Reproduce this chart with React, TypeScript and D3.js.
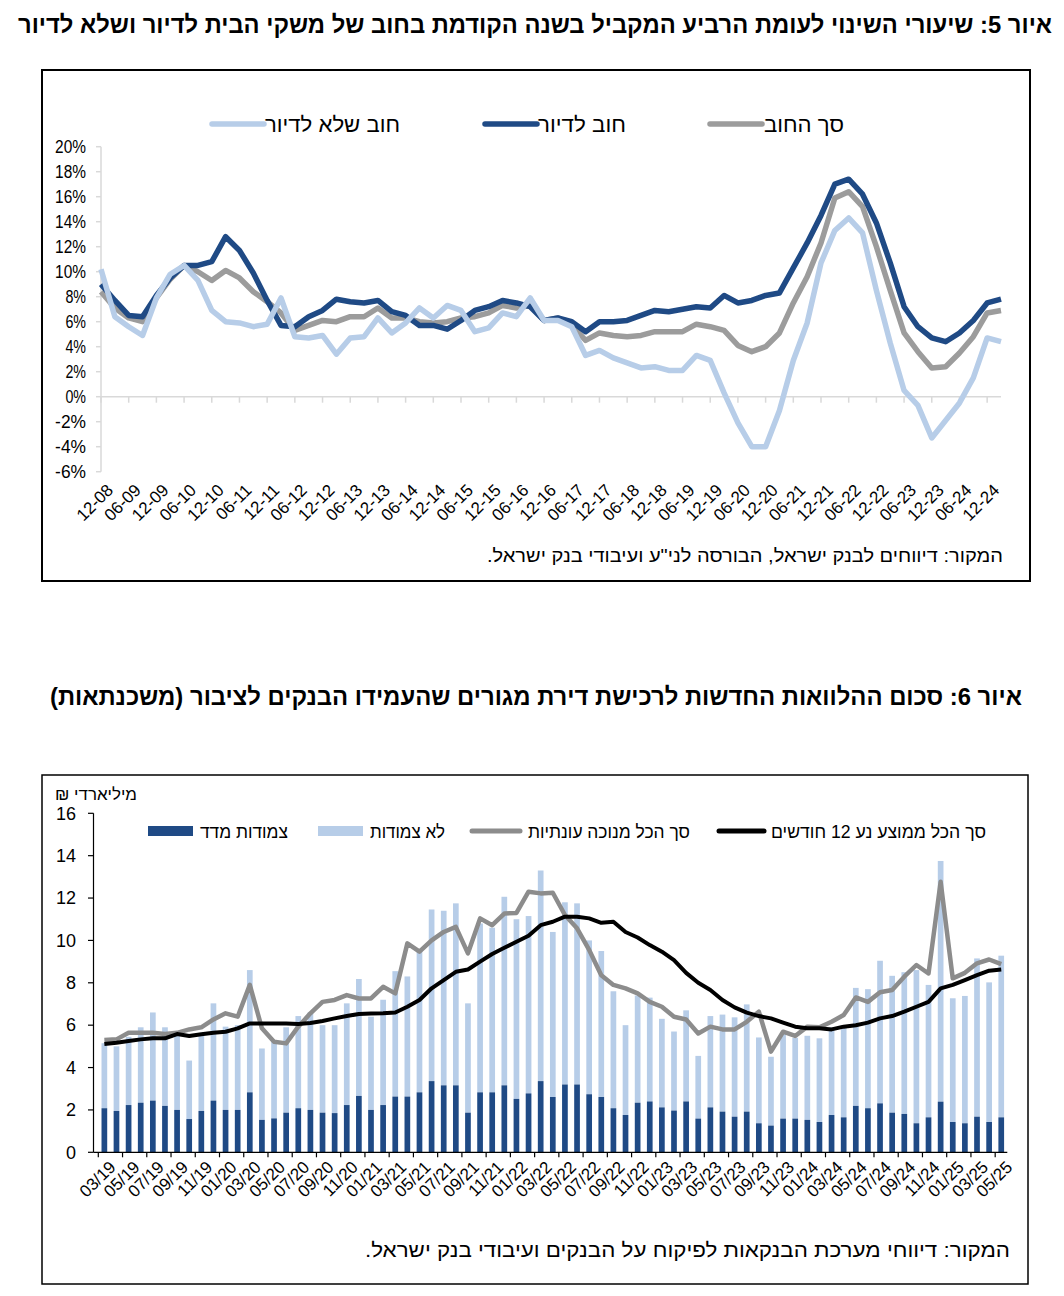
import React, { useEffect, useRef } from "react";
import * as d3 from "d3";

const FONT = "'Liberation Sans', Arial, 'DejaVu Sans', sans-serif";

// ---------- figure 5: quarterly yoy change in household debt (%) ----------
const quarters = [
  "12-08", "03-09", "06-09", "09-09", "12-09", "03-10", "06-10", "09-10", "12-10",
  "03-11", "06-11", "09-11", "12-11", "03-12", "06-12", "09-12", "12-12",
  "03-13", "06-13", "09-13", "12-13", "03-14", "06-14", "09-14", "12-14",
  "03-15", "06-15", "09-15", "12-15", "03-16", "06-16", "09-16", "12-16",
  "03-17", "06-17", "09-17", "12-17", "03-18", "06-18", "09-18", "12-18",
  "03-19", "06-19", "09-19", "12-19", "03-20", "06-20", "09-20", "12-20",
  "03-21", "06-21", "09-21", "12-21", "03-22", "06-22", "09-22", "12-22",
  "03-23", "06-23", "09-23", "12-23", "03-24", "06-24", "09-24", "12-24", "03-25",
];
const quarterTicks = quarters.filter((_, i) => i % 2 === 0);
const pctTicks = [-6, -4, -2, 0, 2, 4, 6, 8, 10, 12, 14, 16, 18, 20];

const totalDebt = [
  8.4, 7.1, 6.3, 6.0, 7.9, 9.4, 10.5, 10.0, 9.3, 10.1, 9.5, 8.4, 7.6, 6.7, 5.3, 5.7,
  6.1, 6.0, 6.4, 6.4, 7.1, 6.3, 6.3, 6.0, 5.9, 6.0, 6.3, 6.4, 6.7, 7.3, 7.1, 7.3,
  6.1, 6.3, 5.7, 4.5, 5.1, 4.9, 4.8, 4.9, 5.2, 5.2, 5.2, 5.8, 5.6, 5.3, 4.1, 3.6,
  4.0, 5.1, 7.5, 9.6, 12.3, 15.9, 16.4, 15.2, 12.0, 8.5, 5.1, 3.6, 2.3, 2.4, 3.5,
  4.8, 6.7, 6.9,
];
const housingDebt = [
  9.0, 7.7, 6.5, 6.4, 8.1, 9.5, 10.5, 10.5, 10.8, 12.8, 11.7, 9.9, 7.7, 5.7, 5.6, 6.4,
  6.9, 7.8, 7.6, 7.5, 7.7, 6.8, 6.5, 5.7, 5.7, 5.4, 6.1, 6.9, 7.2, 7.7, 7.5, 7.2,
  6.1, 6.3, 6.0, 5.2, 6.0, 6.0, 6.1, 6.5, 6.9, 6.8, 7.0, 7.2, 7.1, 8.1, 7.5, 7.7,
  8.1, 8.3, 10.3, 12.3, 14.5, 17.0, 17.4, 16.2, 13.9, 10.7, 7.2, 5.6, 4.7, 4.4, 5.1,
  6.1, 7.5, 7.8,
];
const nonHousingDebt = [
  10.2, 6.4, 5.6, 4.9, 7.9, 9.8, 10.5, 9.3, 6.9, 6.0, 5.9, 5.6, 5.8, 7.9, 4.8, 4.7,
  4.9, 3.4, 4.7, 4.8, 6.3, 5.1, 5.9, 7.1, 6.3, 7.3, 6.9, 5.2, 5.5, 6.7, 6.4, 7.9,
  6.1, 6.1, 5.6, 3.3, 3.7, 3.1, 2.7, 2.3, 2.4, 2.1, 2.1, 3.3, 2.9, 0.3, -2.1, -4.0,
  -4.0, -1.1, 2.9, 5.9, 10.7, 13.3, 14.3, 13.1, 8.5, 4.3, 0.5, -0.7, -3.3, -1.9,
  -0.5, 1.5, 4.7, 4.4,
];

// ---------- figure 6: new mortgages (billion NIS) ----------
const months = [
  "03/19", "04/19", "05/19", "06/19", "07/19", "08/19", "09/19", "10/19", "11/19", "12/19",
  "01/20", "02/20", "03/20", "04/20", "05/20", "06/20", "07/20", "08/20", "09/20", "10/20", "11/20", "12/20",
  "01/21", "02/21", "03/21", "04/21", "05/21", "06/21", "07/21", "08/21", "09/21", "10/21", "11/21", "12/21",
  "01/22", "02/22", "03/22", "04/22", "05/22", "06/22", "07/22", "08/22", "09/22", "10/22", "11/22", "12/22",
  "01/23", "02/23", "03/23", "04/23", "05/23", "06/23", "07/23", "08/23", "09/23", "10/23", "11/23", "12/23",
  "01/24", "02/24", "03/24", "04/24", "05/24", "06/24", "07/24", "08/24", "09/24", "10/24", "11/24", "12/24",
  "01/25", "02/25", "03/25", "04/25", "05/25",
];
const monthTicks = months.filter((_, i) => i % 2 === 0);
const amountTicks = [0, 2, 4, 6, 8, 10, 12, 14, 16];

const cpiLinked = [
  2.08, 1.95, 2.23, 2.34, 2.44, 2.19, 2.0, 1.57, 1.95, 2.44, 2.0, 2.0, 2.83, 1.53, 1.6,
  1.87, 2.08, 2.0, 1.87, 1.85, 2.23, 2.66, 2.0, 2.23, 2.63, 2.63, 2.83, 3.36, 3.16, 3.16,
  1.87, 2.83, 2.83, 3.16, 2.52, 2.78, 3.36, 2.61, 3.2, 3.2, 2.74, 2.61, 2.08, 1.76, 2.34,
  2.4, 2.12, 1.97, 2.4, 1.59, 2.12, 1.92, 1.68, 1.92, 1.37, 1.26, 1.59, 1.59, 1.53, 1.43,
  1.76, 1.65, 2.19, 2.08, 2.31, 1.87, 1.81, 1.37, 1.65, 2.39, 1.43, 1.37, 1.68, 1.43, 1.65,
];
const unlinked = [
  3.07, 3.05, 3.22, 3.56, 4.16, 3.71, 3.6, 2.76, 3.55, 4.59, 3.93, 4.0, 5.77, 3.37, 3.7,
  4.03, 4.35, 4.6, 4.13, 4.15, 4.8, 5.52, 4.4, 4.97, 5.92, 5.67, 6.77, 8.1, 8.24, 8.59,
  5.16, 7.97, 7.77, 8.9, 8.48, 8.37, 9.94, 7.79, 8.6, 8.55, 7.26, 6.89, 5.52, 4.24, 5.06,
  4.9, 4.18, 3.73, 4.3, 2.96, 4.31, 4.58, 4.69, 5.06, 4.05, 3.25, 4.01, 3.81, 3.97, 3.95,
  4.14, 4.35, 5.57, 5.62, 6.73, 6.46, 6.69, 7.23, 6.25, 11.36, 5.84, 6.01, 7.47, 6.59, 7.63,
];
const seasonallyAdj = [
  5.3, 5.33, 5.64, 5.64, 5.64, 5.58, 5.64, 5.8, 5.9, 6.27, 6.56, 6.4, 7.9, 5.85, 5.22,
  5.14, 5.93, 6.56, 7.1, 7.19, 7.42, 7.26, 7.26, 7.81, 7.5, 9.86, 9.47, 10.0, 10.4, 10.64,
  9.39, 11.04, 10.72, 11.27, 11.3, 12.3, 12.22, 12.25, 11.2, 10.57, 9.55, 8.36, 7.9, 7.74, 7.5,
  7.1, 6.87, 6.4, 6.27, 5.61, 5.93, 5.8, 5.8, 6.16, 6.64, 4.75, 5.69, 5.49, 5.93, 5.9,
  6.16, 6.48, 7.31, 7.1, 7.55, 7.66, 8.29, 8.84, 8.44, 12.77, 8.21, 8.47, 8.92, 9.1, 8.88,
];
const movingAvg12 = [
  5.11, 5.17, 5.25, 5.33, 5.38, 5.38, 5.58, 5.49, 5.57, 5.64, 5.69, 5.85, 6.08, 6.08, 6.08,
  6.08, 6.05, 6.1, 6.2, 6.32, 6.43, 6.53, 6.55, 6.56, 6.6, 6.87, 7.19, 7.74, 8.13, 8.52,
  8.63, 9.0, 9.36, 9.65, 9.94, 10.22, 10.72, 10.88, 11.12, 11.12, 11.04, 10.83, 10.88, 10.4, 10.14,
  9.78, 9.47, 9.07, 8.47, 8.0, 7.66, 7.19, 6.84, 6.59, 6.43, 6.32, 6.12, 5.93, 5.85, 5.85,
  5.8, 5.93, 6.0, 6.12, 6.32, 6.43, 6.64, 6.87, 7.1, 7.74, 7.9, 8.13, 8.36, 8.57, 8.63,
];

const C_DARK = "#1f4a85";
const C_LIGHT = "#b7cde8";
const C_GRAY = "#9c9c9c";
const C_AXIS = "#d9d9d9";

type Sel = d3.Selection<SVGSVGElement, unknown, null, undefined>;

function rtlText(g: any, x: number, y: number, txt: string, size: number, opts: any = {}) {
  const t = g
    .append("text")
    .attr("x", x)
    .attr("y", y)
    .attr("direction", "rtl")
    .attr("text-anchor", "start")
    .attr("font-family", FONT)
    .attr("font-size", size)
    .attr("fill", "#000")
    .text(txt);
  if (opts.bold) t.attr("font-weight", "bold");
  if (opts.len) t.attr("textLength", opts.len).attr("lengthAdjust", "spacingAndGlyphs");
  return t;
}

function drawTop(svg: Sel) {
  const g = svg.append("g");
  rtlText(g, 1052, 33, "איור 5: שיעורי השינוי לעומת הרביע המקביל בשנה הקודמת בחוב של משקי הבית לדיור ושלא לדיור", 24, { bold: true, len: 1034 });

  g.append("rect").attr("x", 42).attr("y", 70).attr("width", 988).attr("height", 511)
    .attr("fill", "none").attr("stroke", "#000").attr("stroke-width", 2);

  const x = d3.scalePoint<string>().domain(quarters).range([101, 1001]);
  const y = d3.scaleLinear().domain([-6, 20]).range([471.7, 146.7]);

  // y axis
  g.append("line").attr("x1", 101).attr("x2", 101).attr("y1", y(20)).attr("y2", y(-6))
    .attr("stroke", C_AXIS).attr("stroke-width", 1.5);
  pctTicks.forEach((v) => {
    g.append("line").attr("x1", 96).attr("x2", 101).attr("y1", y(v)).attr("y2", y(v))
      .attr("stroke", C_AXIS).attr("stroke-width", 1.5);
    g.append("text").attr("x", 86).attr("y", y(v)).attr("dy", "0.36em")
      .attr("text-anchor", "end").attr("font-family", FONT).attr("font-size", 18)
      .attr("textLength", `${v}%`.length * 10.3).attr("lengthAdjust", "spacingAndGlyphs")
      .text(`${v}%`);
  });
  // zero axis with ticks
  g.append("line").attr("x1", 101).attr("x2", 1001).attr("y1", y(0)).attr("y2", y(0))
    .attr("stroke", C_AXIS).attr("stroke-width", 1.5);
  quarterTicks.forEach((q) => {
    const xx = x(q)!;
    g.append("line").attr("x1", xx).attr("x2", xx).attr("y1", y(0)).attr("y2", y(0) + 6)
      .attr("stroke", C_AXIS).attr("stroke-width", 1.5);
    g.append("text")
      .attr("transform", `translate(${xx + 9},${487}) rotate(-45)`)
      .attr("text-anchor", "end").attr("dy", "0.35em")
      .attr("font-family", FONT).attr("font-size", 17)
      .text(q);
  });

  const line = d3.line<number>().x((_, i) => x(quarters[i])!).y((d) => y(d));
  const series = [
    { data: totalDebt, color: C_GRAY },
    { data: housingDebt, color: C_DARK },
    { data: nonHousingDebt, color: C_LIGHT },
  ];
  series.forEach((s) => {
    g.append("path").attr("d", line(s.data)!).attr("fill", "none")
      .attr("stroke", s.color).attr("stroke-width", 5.5)
      .attr("stroke-linejoin", "round").attr("stroke-linecap", "butt");
  });

  // legend
  const legend = [
    { label: "סך החוב", color: C_GRAY, lx: 710, tx: 844, len: 80 },
    { label: "חוב לדיור", color: C_DARK, lx: 485, tx: 626, len: 88 },
    { label: "חוב שלא לדיור", color: C_LIGHT, lx: 212, tx: 400, len: 135 },
  ];
  legend.forEach((l) => {
    g.append("line").attr("x1", l.lx).attr("x2", l.lx + 52).attr("y1", 124).attr("y2", 124)
      .attr("stroke", l.color).attr("stroke-width", 5.5).attr("stroke-linecap", "round");
    rtlText(g, l.tx, 132, l.label, 21, { len: l.len });
  });

  rtlText(g, 1003, 562, "המקור: דיווחים לבנק ישראל, הבורסה לני\"ע ועיבודי בנק ישראל.", 18, { len: 516 });
}

function drawBottom(svg: Sel) {
  const g = svg.append("g");
  rtlText(g, 1022, 705, "איור 6: סכום ההלוואות החדשות לרכישת דירת מגורים שהעמידו הבנקים לציבור (משכנתאות)", 24, { bold: true, len: 972 });

  g.append("rect").attr("x", 42).attr("y", 775).attr("width", 986).attr("height", 509)
    .attr("fill", "none").attr("stroke", "#000").attr("stroke-width", 1.5);

  const x = d3.scaleBand<string>().domain(months).range([98.3, 1007.3]).padding(0);
  const y = d3.scaleLinear().domain([0, 16]).range([1152.3, 813.3]);
  const bw = x.bandwidth() * 0.47;
  const cx = (m: string) => x(m)! + x.bandwidth() / 2;

  // bars
  months.forEach((m, i) => {
    g.append("rect").attr("x", cx(m) - bw / 2).attr("width", bw)
      .attr("y", y(cpiLinked[i] + unlinked[i])).attr("height", y(cpiLinked[i]) - y(cpiLinked[i] + unlinked[i]))
      .attr("fill", C_LIGHT);
    g.append("rect").attr("x", cx(m) - bw / 2).attr("width", bw)
      .attr("y", y(cpiLinked[i])).attr("height", y(0) - y(cpiLinked[i]))
      .attr("fill", C_DARK);
  });

  const line = d3.line<number>().x((_, i) => cx(months[i])).y((d) => y(d));
  g.append("path").attr("d", line(seasonallyAdj)!).attr("fill", "none")
    .attr("stroke", "#8c8c8c").attr("stroke-width", 4.5).attr("stroke-linejoin", "round");
  g.append("path").attr("d", line(movingAvg12)!).attr("fill", "none")
    .attr("stroke", "#000").attr("stroke-width", 4).attr("stroke-linejoin", "round");

  // axes
  g.append("line").attr("x1", 93.5).attr("x2", 93.5).attr("y1", y(16)).attr("y2", y(0))
    .attr("stroke", "#000").attr("stroke-width", 1.2);
  amountTicks.forEach((v) => {
    g.append("line").attr("x1", 88).attr("x2", 93.5).attr("y1", y(v)).attr("y2", y(v))
      .attr("stroke", "#000").attr("stroke-width", 1.2);
    g.append("text").attr("x", 76).attr("y", y(v)).attr("dy", "0.35em")
      .attr("text-anchor", "end").attr("font-family", FONT).attr("font-size", 18)
      .text(v);
  });
  g.append("line").attr("x1", 93.5).attr("x2", 1007.3).attr("y1", y(0)).attr("y2", y(0))
    .attr("stroke", "#000").attr("stroke-width", 1.2);
  monthTicks.forEach((m) => {
    const xx = x(m)!;
    g.append("line").attr("x1", xx).attr("x2", xx).attr("y1", y(0)).attr("y2", y(0) + 5)
      .attr("stroke", "#000").attr("stroke-width", 1.2);
    g.append("text")
      .attr("transform", `translate(${cx(m) + 8},${1164}) rotate(-45)`)
      .attr("text-anchor", "end").attr("dy", "0.35em")
      .attr("font-family", FONT).attr("font-size", 17)
      .text(m);
  });

  rtlText(g, 137, 800, "מיליארדי ₪", 16, { len: 82 });

  // legend
  g.append("rect").attr("x", 148).attr("y", 826).attr("width", 45).attr("height", 10).attr("fill", C_DARK);
  rtlText(g, 288, 838, "צמודות מדד", 18, { len: 88 });
  g.append("rect").attr("x", 318).attr("y", 826).attr("width", 45).attr("height", 10).attr("fill", C_LIGHT);
  rtlText(g, 445, 838, "לא צמודות", 18, { len: 75 });
  g.append("line").attr("x1", 472).attr("x2", 520).attr("y1", 831).attr("y2", 831)
    .attr("stroke", "#8c8c8c").attr("stroke-width", 5).attr("stroke-linecap", "round");
  rtlText(g, 690, 838, "סך הכל מנוכה עונתיות", 18, { len: 162 });
  g.append("line").attr("x1", 719).attr("x2", 764).attr("y1", 831).attr("y2", 831)
    .attr("stroke", "#000").attr("stroke-width", 5).attr("stroke-linecap", "round");
  rtlText(g, 986, 838, "סך הכל ממוצע נע 12 חודשים", 18, { len: 215 });

  rtlText(g, 1010, 1257, "המקור: דיווחי מערכת הבנקאות לפיקוח על הבנקים ועיבודי בנק ישראל.", 20, { len: 645 });
}

export default function App() {
  const ref = useRef<SVGSVGElement>(null);
  useEffect(() => {
    document.body.style.margin = "0";
    const svg = d3.select(ref.current!) as Sel;
    svg.selectAll("*").remove();
    drawTop(svg);
    drawBottom(svg);
  }, []);
  return <svg ref={ref} width={1064} height={1296} style={{ display: "block", background: "#fff" }} />;
}
